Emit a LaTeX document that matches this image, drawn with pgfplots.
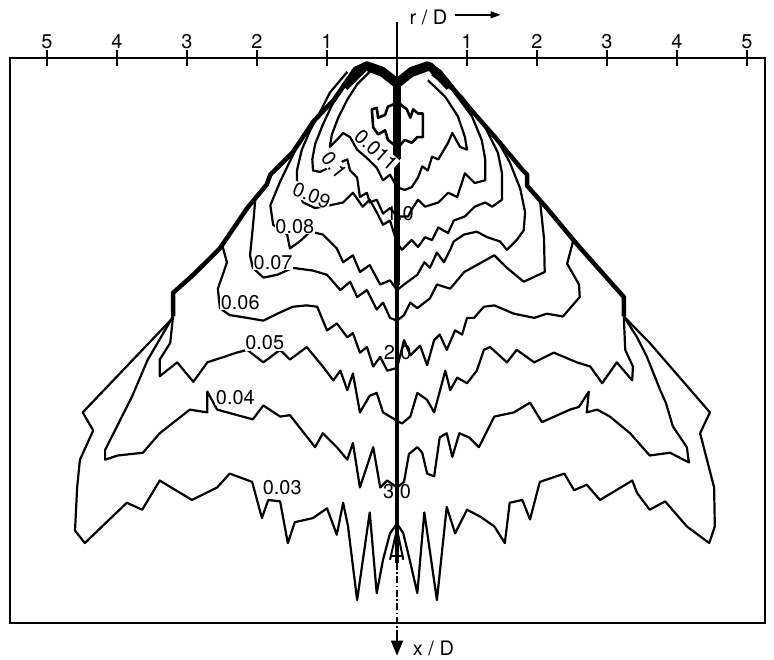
\documentclass[border=0pt]{standalone}
\usepackage{fontspec}
\setmainfont{TeX Gyre Heros}
\usepackage{pgfplots}
\pgfplotsset{compat=1.18}
\usetikzlibrary{arrows.meta}
\newcommand\lab{\fontsize{20}{22}\selectfont}
\begin{document}
\begin{tikzpicture}
\begin{axis}[
  name=ax, scale only axis, width=755bp, height=565bp,
  xmin=-5.529, xmax=5.257, ymin=-0.1295, ymax=3.935, y dir=reverse,
  clip=false,
  axis line style={line width=1.8bp},
  xtick={-5,-4,-3,-2,-1,1,2,3,4,5},
  xticklabels={5,4,3,2,1,1,2,3,4,5},
  ytick=\empty,
  xtick pos=upper, xticklabel pos=upper,
  tick align=center,
  major tick length=16bp,
  xtick style={line width=1.8bp,black},
  xticklabel style={font=\lab, inner sep=1bp},
  ct/.style={black, solid, line width=2.2bp, line join=round, mark=none},
]
% envelope
\addplot[ct, line width=4.5bp] coordinates {(0,0.03) (-0.20,-0.05) (-0.43,-0.09) (-0.60,-0.05) (-0.90,0.17) (-1.20,0.33) (-1.49,0.55) (-1.81,0.71) (-1.86,0.78) (-2.14,0.95) (-2.53,1.24) (-2.91,1.43) (-3.20,1.56) (-3.20,1.73)};
\addplot[ct, line width=4.5bp] coordinates {(0,0.03) (0.20,-0.05) (0.44,-0.09) (0.61,-0.03) (0.93,0.17) (1.40,0.44) (1.80,0.68) (1.86,0.71) (1.86,0.79) (2.14,0.95) (2.57,1.21) (3.24,1.59) (3.24,1.73)};
\addplot[ct, line width=8bp] coordinates {(-0.75,0.08) (-0.45,-0.07) (-0.2,-0.02) (0,0.06) (0.2,-0.02) (0.47,-0.07) (0.75,0.08)};
% 0.03
\addplot[ct] coordinates {(-3.20,1.73) (-3.24,1.76) (-4.49,2.42) (-4.34,2.55) (-4.53,2.76) (-4.57,2.96) (-4.60,3.27) (-4.46,3.36) (-3.86,3.07) (-3.64,3.12) (-3.39,2.91) (-2.93,3.05) (-2.57,2.96) (-2.39,2.86) (-2.07,2.92) (-2.00,3.05) (-1.93,3.18) (-1.84,3.05) (-1.67,3.06) (-1.56,3.36) (-1.46,3.21) (-1.20,3.18) (-1.00,3.11) (-0.86,3.30) (-0.77,3.07) (-0.70,3.24) (-0.57,3.77) (-0.39,3.14) (-0.29,3.72) (-0.20,3.48) (-0.10,3.29) (0,3.22)
 (0.09,3.29) (0.19,3.50) (0.29,3.72) (0.39,3.14) (0.57,3.77) (0.71,3.10) (0.83,3.29) (1.00,3.12) (1.19,3.17) (1.39,3.24) (1.54,3.36) (1.61,3.07) (1.79,3.05) (1.90,3.19) (2.04,2.92) (2.39,2.86) (2.53,2.98) (2.71,2.94) (2.90,3.05) (3.36,2.91) (3.43,3.00) (3.61,3.12) (3.83,3.06) (4.14,3.24) (4.46,3.36) (4.54,3.24) (4.53,2.96) (4.33,2.57) (4.47,2.42) (4.04,2.17) (3.61,1.92) (3.24,1.73)};
% 0.04
\addplot[ct] coordinates {(-3.20,1.73) (-3.56,2.04) (-3.79,2.31) (-4.17,2.69) (-4.17,2.76) (-3.99,2.73) (-3.63,2.71) (-3.39,2.57) (-2.96,2.40) (-2.71,2.42) (-2.71,2.27) (-2.57,2.40) (-2.06,2.47) (-1.91,2.37) (-1.67,2.45) (-1.53,2.44) (-1.17,2.67) (-1.06,2.57) (-0.86,2.67) (-0.71,2.76) (-0.63,2.64) (-0.53,2.96) (-0.34,2.67) (-0.24,2.96) (-0.14,2.91) (0,2.96)
 (0.10,2.92) (0.17,2.72) (0.29,2.67) (0.36,2.71) (0.43,2.86) (0.53,2.88) (0.61,2.60) (0.71,2.57) (0.79,2.74) (0.89,2.57) (1.03,2.60) (1.17,2.67) (1.39,2.45) (1.67,2.42) (1.90,2.35) (2.07,2.49) (2.47,2.40) (2.60,2.38) (2.74,2.27) (2.71,2.42) (2.86,2.40) (3.04,2.45) (3.33,2.57) (3.61,2.73) (3.90,2.71) (4.17,2.78) (4.14,2.67) (3.94,2.52) (3.84,2.35) (3.76,2.26) (3.57,2.02) (3.43,1.88) (3.24,1.73)};
% 0.05
\addplot[ct] coordinates {(-3.20,1.73) (-3.24,1.92) (-3.39,2.04) (-3.39,2.16) (-3.14,2.06) (-2.91,2.20) (-2.71,2.06) (-2.53,2.03) (-2.29,1.99) (-2.14,1.97) (-1.91,2.06) (-1.67,1.97) (-1.53,2.04) (-1.29,1.95) (-1.06,2.09) (-0.91,2.19) (-0.81,2.12) (-0.71,2.26) (-0.63,2.14) (-0.53,2.42) (-0.39,2.30) (-0.29,2.28) (-0.20,2.42) (-0.10,2.45) (0,2.48)
 (0.07,2.50) (0.19,2.45) (0.29,2.28) (0.43,2.33) (0.53,2.42) (0.69,2.12) (0.76,2.26) (0.86,2.17) (1.00,2.21) (1.14,2.12) (1.24,1.97) (1.33,1.95) (1.57,2.06) (1.71,1.97) (1.96,2.06) (2.24,1.99) (2.57,2.06) (2.76,2.09) (2.93,2.21) (3.14,2.06) (3.36,2.19) (3.37,2.09) (3.26,1.97) (3.24,1.73)};
% 0.06
\addplot[ct] coordinates {(-2.50,1.21) (-2.43,1.34) (-2.49,1.43) (-2.56,1.53) (-2.53,1.67) (-2.39,1.72) (-2.14,1.74) (-1.91,1.76) (-1.71,1.71) (-1.49,1.66) (-1.29,1.65) (-1.14,1.66) (-1.00,1.83) (-0.86,1.78) (-0.71,1.88) (-0.63,1.85) (-0.53,1.99) (-0.43,1.95) (-0.34,2.09) (-0.24,2.02) (-0.14,2.12) (0,2.10)
 (0.10,1.90) (0.19,2.01) (0.33,1.94) (0.43,2.08) (0.53,1.90) (0.61,1.86) (0.71,1.97) (0.83,1.83) (0.93,1.86) (1.00,1.74) (1.10,1.74) (1.24,1.66) (1.39,1.65) (1.67,1.71) (1.96,1.74) (2.14,1.71) (2.37,1.73) (2.61,1.59) (2.60,1.50) (2.43,1.35) (2.52,1.18)};
% 0.07
\addplot[ct] coordinates {(-2.02,0.86) (-2.06,1.09) (-2.10,1.29) (-2.06,1.38) (-1.91,1.45) (-1.71,1.43) (-1.49,1.38) (-1.20,1.40) (-1.00,1.43) (-0.81,1.54) (-0.67,1.48) (-0.57,1.59) (-0.43,1.54) (-0.29,1.68) (-0.20,1.63) (-0.10,1.74) (0,1.76)
 (0.10,1.72) (0.19,1.63) (0.29,1.67) (0.47,1.60) (0.57,1.50) (0.76,1.53) (0.96,1.41) (1.14,1.36) (1.39,1.29) (1.57,1.38) (1.81,1.48) (2.11,1.41) (2.10,1.17) (2.06,0.98) (2.04,0.88)};
% 0.08
\addplot[ct] coordinates {(-1.46,0.54) (-1.67,0.76) (-1.81,0.93) (-1.77,1.07) (-1.57,1.14) (-1.53,1.24) (-1.39,1.19) (-1.24,1.12) (-1.06,1.14) (-0.86,1.24) (-0.77,1.34) (-0.63,1.29) (-0.53,1.41) (-0.39,1.36) (-0.24,1.50) (-0.10,1.47) (0,1.54)
 (0.10,1.50) (0.29,1.43) (0.39,1.34) (0.47,1.38) (0.57,1.27) (0.67,1.34) (0.76,1.25) (0.81,1.19) (0.96,1.14) (1.14,1.12) (1.29,1.16) (1.47,1.19) (1.57,1.25) (1.71,1.18) (1.81,1.11) (1.83,0.98) (1.76,0.81) (1.61,0.62) (1.41,0.44)};
% 0.09
\addplot[ct] coordinates {(-0.71,-0.03) (-0.96,0.12) (-1.10,0.26) (-1.24,0.39) (-1.36,0.53) (-1.43,0.68) (-1.43,0.82) (-1.34,0.91) (-1.17,0.95) (-0.96,0.93) (-0.77,0.91) (-0.63,0.84) (-0.56,0.89) (-0.49,0.94) (-0.39,0.89) (-0.29,0.98) (-0.20,1.07) (-0.10,1.04) (0,1.20)
 (0.07,1.25) (0.21,1.18) (0.30,1.23) (0.40,1.16) (0.50,1.18) (0.59,1.09) (0.73,1.13) (0.81,1.04) (0.97,1.01) (1.11,0.94) (1.26,0.91) (1.36,0.94) (1.50,0.89) (1.50,0.70) (1.44,0.55) (1.26,0.37) (0.93,0.15) (0.59,-0.01)};
% 0.1
\addplot[ct] coordinates {(-0.53,-0.04) (-0.77,0.09) (-0.93,0.21) (-1.06,0.35) (-1.17,0.49) (-1.21,0.60) (-1.20,0.68) (-1.10,0.69) (-0.89,0.64) (-0.71,0.60) (-0.67,0.68) (-0.57,0.73) (-0.53,0.87) (-0.43,0.84) (-0.39,0.91) (-0.29,0.89) (-0.20,0.99) (-0.10,0.95) (0,1.01)
 (0.16,1.01) (0.21,0.96) (0.30,0.89) (0.40,0.94) (0.59,0.91) (0.73,0.84) (0.86,0.87) (0.97,0.70) (1.11,0.77) (1.26,0.75) (1.26,0.60) (1.21,0.46) (1.07,0.29) (0.79,0.10) (0.50,-0.01)};
% 0.11
\addplot[ct] coordinates {(-0.39,-0.03) (-0.57,0.06) (-0.71,0.17) (-0.84,0.30) (-0.93,0.42) (-0.96,0.51) (-0.86,0.46) (-0.77,0.41) (-0.67,0.44) (-0.57,0.53) (-0.43,0.59) (-0.29,0.66) (-0.20,0.75) (-0.10,0.71) (0,0.80)
 (0.11,0.82) (0.21,0.80) (0.30,0.73) (0.36,0.65) (0.44,0.68) (0.50,0.58) (0.59,0.60) (0.73,0.48) (0.79,0.41) (0.90,0.51) (1.00,0.53) (0.97,0.44) (0.87,0.29) (0.69,0.15) (0.44,0.03)};
% inner fork shapes
\addplot[ct, line width=2.6bp] coordinates {(-0.03,0.50) (-0.13,0.46) (-0.17,0.39) (-0.27,0.42) (-0.34,0.37) (-0.36,0.24) (-0.29,0.23) (-0.27,0.30) (-0.17,0.28) (-0.13,0.22) (-0.03,0.20)};
\addplot[ct, line width=2.6bp] coordinates {(0.04,0.20) (0.14,0.24) (0.19,0.30) (0.23,0.24) (0.30,0.27) (0.37,0.27) (0.37,0.44) (0.29,0.44) (0.21,0.48) (0.11,0.46) (0.04,0.50)};
% centre line
\addplot[ct, line width=8bp] coordinates {(0,0.02) (0,0.6)};
\addplot[ct, line width=6bp] coordinates {(0,0.6) (0,1.5)};
\addplot[ct, line width=4.5bp] coordinates {(0,1.5) (0,3.5)};
\addplot[ct, line width=2bp] coordinates {(-0.10,3.48) (0,3.26) (0.09,3.48)};
\addplot[ct, line width=2bp] coordinates {(-0.08,3.45) (0.08,3.45)};
\draw[line width=1.6bp, dash pattern=on 7bp off 2.5bp on 1.5bp off 2.5bp] (axis cs:0,3.5) -- (axis cs:0,4.02);
\draw[line width=1.6bp, -{Triangle[length=15bp,width=12bp]}] (axis cs:0,4.0) -- (axis cs:0,4.17);
\draw[line width=1.8bp] (axis cs:0,-0.39) -- (axis cs:0,0.02);
\draw[line width=1.6bp, -{Triangle[length=10bp,width=7bp]}] (axis cs:0.83,-0.44) -- (axis cs:1.48,-0.44);
\node[font=\lab] at (axis cs:0.45,-0.42) {r / D};
\node[font=\lab] at (axis cs:0.52,4.115) {x / D};
% labels
\begin{scope}[every node/.style={font=\lab, inner sep=0.6bp, fill=white}]
\node[rotate=-42] at (axis cs:-0.30,0.53) {0.011};
\node[rotate=-52] at (axis cs:-0.90,0.64) {0.1};
\node[rotate=-22] at (axis cs:-1.22,0.86) {0.09};
\node at (axis cs:-1.46,1.08) {0.08};
\node at (axis cs:-1.77,1.34) {0.07};
\node at (axis cs:-2.24,1.63) {0.06};
\node at (axis cs:-1.89,1.92) {0.05};
\node at (axis cs:-2.31,2.31) {0.04};
\node at (axis cs:-1.64,2.96) {0.03};
\end{scope}
\node[font=\lab] at (axis cs:0.04,0.99) {1.0};
\node[font=\lab] at (axis cs:0.01,1.99) {2.0};
\node[font=\lab] at (axis cs:0,2.99) {3.0};
\end{axis}
\pgfresetboundingbox
\path ([xshift=-10bp,yshift=-37bp]ax.south west) rectangle ([xshift=9bp,yshift=58bp]ax.north east);
\end{tikzpicture}
\end{document}
